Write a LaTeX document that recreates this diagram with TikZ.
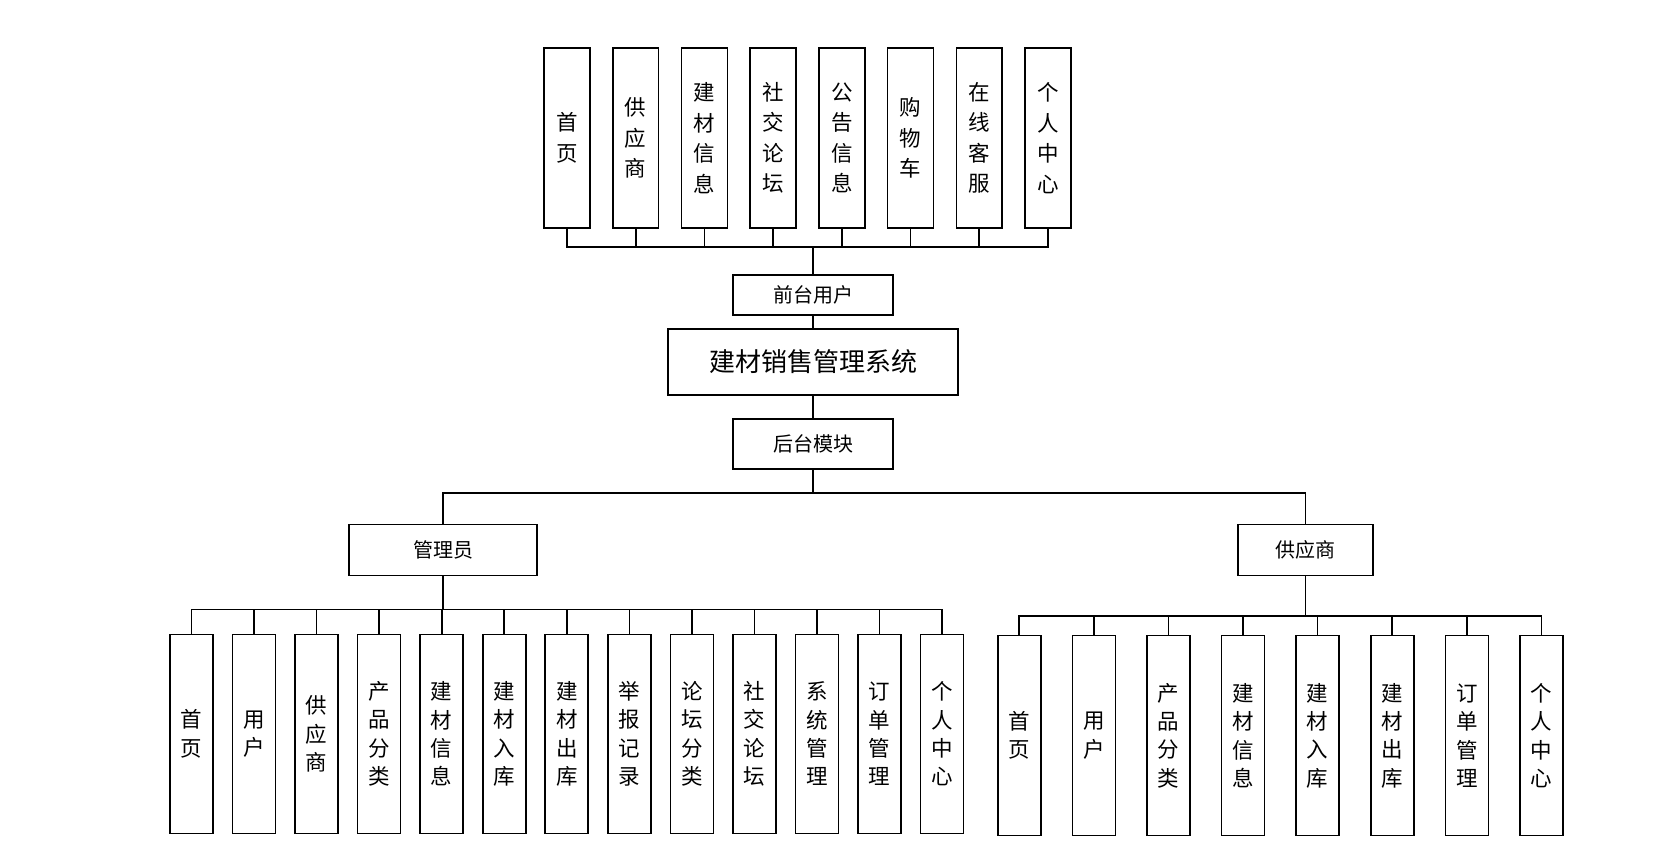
\documentclass[tikz,border=0pt]{standalone}
\usepackage{fontspec}
\setmainfont{Noto Sans CJK SC}
\usetikzlibrary{positioning}

\begin{document}
\begin{tikzpicture}[x=1pt, y=1pt, on grid]
  \tikzstyle{mod} = [draw, line width=1.6pt, fill=white, rectangle, inner sep=0pt, align=center, minimum height=40pt, minimum width=160pt, font={\fontsize{20}{24}\selectfont}]
  \tikzstyle{leaf} = [mod, minimum width=43pt, minimum height=199pt, font={\fontsize{21.5}{28.4}\selectfont}]
  \tikzstyle{topleaf} = [leaf, minimum width=45.8pt, minimum height=180pt, font={\fontsize{21.5}{30.5}\selectfont}]
  \tikzstyle{link} = [black, line width=1.6pt]

  \useasboundingbox (0,0) rectangle (1669,867);

  % centre column
  \node[mod, minimum width=290pt, minimum height=66pt, font={\fontsize{26}{30}\selectfont}] (sys) at (813,505) {建材销售管理系统};
  \node[mod] (front) at (813,572) {前台用户};
  \node[mod, minimum height=50pt] (back) at (813,423) {后台模块};
  \node[mod, minimum width=188pt, minimum height=51pt] (admin) at (443,317) {管理员};
  \node[mod, minimum width=135pt, minimum height=51pt] (supp) at (1305.5,317) {供应商};

  % front end
  \node[topleaf] (t1) at (567,729) {首\\页};
  \node[topleaf, right=68.7pt of t1] (t2) {供\\应\\商};
  \node[topleaf, right=68.7pt of t2] (t3) {建\\材\\信\\息};
  \node[topleaf, right=68.7pt of t3] (t4) {社\\交\\论\\坛};
  \node[topleaf, right=68.7pt of t4] (t5) {公\\告\\信\\息};
  \node[topleaf, right=68.7pt of t5] (t6) {购\\物\\车};
  \node[topleaf, right=68.7pt of t6] (t7) {在\\线\\客\\服};
  \node[topleaf, right=68.7pt of t7] (t8) {个\\人\\中\\心};

  % admin
  \node[leaf] (a1) at (191.6,133.1) {首\\页};
  \node[leaf, right=62.53pt of a1] (a2) {用\\户};
  \node[leaf, right=62.53pt of a2] (a3) {供\\应\\商};
  \node[leaf, right=62.53pt of a3] (a4) {产\\品\\分\\类};
  \node[leaf, right=62.53pt of a4] (a5) {建\\材\\信\\息};
  \node[leaf, right=62.53pt of a5] (a6) {建\\材\\入\\库};
  \node[leaf, right=62.53pt of a6] (a7) {建\\材\\出\\库};
  \node[leaf, right=62.53pt of a7] (a8) {举\\报\\记\\录};
  \node[leaf, right=62.53pt of a8] (a9) {论\\坛\\分\\类};
  \node[leaf, right=62.53pt of a9] (a10) {社\\交\\论\\坛};
  \node[leaf, right=62.53pt of a10] (a11) {系\\统\\管\\理};
  \node[leaf, right=62.53pt of a11] (a12) {订\\单\\管\\理};
  \node[leaf, right=62.53pt of a12] (a13) {个\\人\\中\\心};

  % supplier
  \node[leaf, minimum height=200pt] (s1) at (1019.2,131.4) {首\\页};
  \node[leaf, minimum height=200pt, right=74.6pt of s1] (s2) {用\\户};
  \node[leaf, minimum height=200pt, right=74.6pt of s2] (s3) {产\\品\\分\\类};
  \node[leaf, minimum height=200pt, right=74.6pt of s3] (s4) {建\\材\\信\\息};
  \node[leaf, minimum height=200pt, right=74.6pt of s4] (s5) {建\\材\\入\\库};
  \node[leaf, minimum height=200pt, right=74.6pt of s5] (s6) {建\\材\\出\\库};
  \node[leaf, minimum height=200pt, right=74.6pt of s6] (s7) {订\\单\\管\\理};
  \node[leaf, minimum height=200pt, right=74.6pt of s7] (s8) {个\\人\\中\\心};

  \draw[link] (front.north) -- ++(0,27) coordinate (tbus);
  \draw[link] (t1.south) |- (tbus) (t2.south) |- (tbus) (t3.south) |- (tbus)
    (t4.south) |- (tbus) (t5.south) |- (tbus) (t6.south) |- (tbus)
    (t7.south) |- (tbus) (t8.south) |- (tbus);
  \draw[link] (front.south) -- (sys.north);
  \draw[link] (sys.south) -- (back.north);
  \draw[link] (back.south) -- ++(0,-23) coordinate (br);
  \draw[link] (br) -| (admin.north) (br) -| (supp.north);

  \draw[link] (admin.south) -- ++(0,-33.3) coordinate (abus);
  \draw[link] (abus) -| (a1.north) (abus) -| (a2.north) (abus) -| (a3.north)
    (abus) -| (a4.north) (abus) -| (a5.north) (abus) -| (a6.north)
    (abus) -| (a7.north) (abus) -| (a8.north) (abus) -| (a9.north)
    (abus) -| (a10.north) (abus) -| (a11.north) (abus) -| (a12.north)
    (abus) -| (a13.north);

  \draw[link] (supp.south) -- ++(0,-39.7) coordinate (sbus);
  \draw[link] (sbus) -| (s1.north) (sbus) -| (s2.north) (sbus) -| (s3.north)
    (sbus) -| (s4.north) (sbus) -| (s5.north) (sbus) -| (s6.north)
    (sbus) -| (s7.north) (sbus) -| (s8.north);
\end{tikzpicture}
\end{document}
